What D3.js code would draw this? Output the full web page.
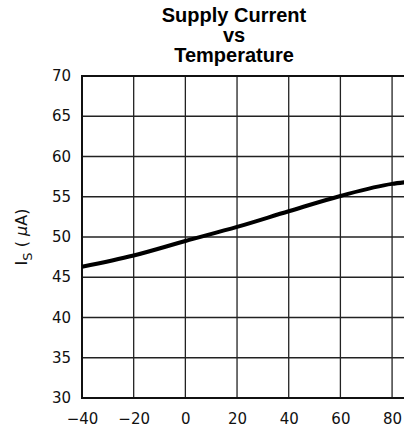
<!DOCTYPE html>
<html>
<head>
<meta charset="utf-8">
<script src="https://cdn.jsdelivr.net/npm/d3@7"></script>
<style>
  body { margin: 0; background: #fff; }
  svg { display: block; }
  .tick text { font-family: "DejaVu Sans", sans-serif; font-size: 15px; fill: #111; }
</style>
</head>
<body>
<svg width="404" height="431"></svg>
<script>
// readings
const temps = [-40, -20, 0, 20, 40, 60, 80, 85];
const supplyCurrent = [46.3, 47.7, 49.5, 51.25, 53.2, 55.1, 56.6, 56.8];
const xTicks = [-40, -20, 0, 20, 40, 60, 80];
const yTicks = [30, 35, 40, 45, 50, 55, 60, 65, 70];
const titleLines = ["Supply Current", "vs", "Temperature"];

const svg = d3.select("svg");
const plotL = 82, plotR = 405, plotT = 76, plotB = 398;

const x = d3.scaleLinear().domain([-40, 85]).range([plotL, plotR]);
const y = d3.scaleLinear().domain([30, 70]).range([plotB, plotT]);

// grid
const grid = svg.append("g").attr("stroke", "#222").attr("stroke-width", 1.3);
grid.selectAll(".vg").data(xTicks.slice(1)).enter().append("line")
  .attr("x1", d => x(d)).attr("x2", d => x(d))
  .attr("y1", plotT).attr("y2", plotB);
grid.selectAll(".hg").data(yTicks.slice(1, -1)).enter().append("line")
  .attr("x1", plotL).attr("x2", plotR)
  .attr("y1", d => y(d)).attr("y2", d => y(d));

// frame
svg.append("rect")
  .attr("x", plotL).attr("y", plotT)
  .attr("width", plotR - plotL).attr("height", plotB - plotT)
  .attr("fill", "none").attr("stroke", "#111").attr("stroke-width", 2);

// axes (labels only)
const xAxis = svg.append("g")
  .attr("transform", `translate(0,${plotB})`)
  .call(d3.axisBottom(x).tickValues(xTicks).tickSize(0).tickPadding(15)
    .tickFormat(d => d < 0 ? "\u2212" + Math.abs(d) : d));
xAxis.select(".domain").remove();

const yAxis = svg.append("g")
  .attr("transform", `translate(${plotL},0)`)
  .call(d3.axisLeft(y).tickValues(yTicks).tickSize(0).tickPadding(11));
yAxis.select(".domain").remove();
yAxis.selectAll(".tick text").attr("dy", "0.3em");

// curve
svg.append("path")
  .datum(temps.map((t, i) => [t, supplyCurrent[i]]))
  .attr("fill", "none").attr("stroke", "#000").attr("stroke-width", 4)
  .attr("d", d3.line().x(d => x(d[0])).y(d => y(d[1])).curve(d3.curveMonotoneX));

// y label
const yl = svg.append("text")
  .attr("transform", `translate(27,${(plotT + plotB) / 2}) rotate(-90)`)
  .attr("text-anchor", "middle")
  .style("font-family", "'DejaVu Sans', sans-serif")
  .style("font-size", "16px").attr("fill", "#111");
yl.append("tspan").text("I");
yl.append("tspan").attr("dy", 5).style("font-size", "13px").text("S");
yl.append("tspan").attr("dy", -5).text(" ( ");
yl.append("tspan").style("font-style", "italic").text("\u03bc");
yl.append("tspan").text("A)");

// title
svg.append("g").selectAll("text").data(titleLines).enter().append("text")
  .attr("x", 234).attr("y", (d, i) => 22 + i * 20)
  .attr("text-anchor", "middle")
  .style("font-family", "'Liberation Sans', Arial, sans-serif")
  .style("font-size", "20px").style("font-weight", "bold")
  .text(d => d);
</script>
</body>
</html>
